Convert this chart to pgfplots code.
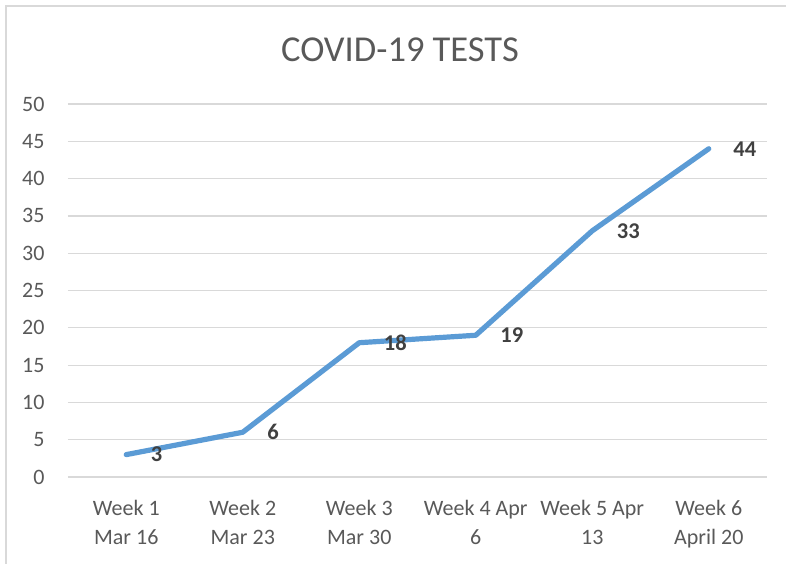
\documentclass[border=0pt]{standalone}
\usepackage{pgfplots}
\pgfplotsset{compat=1.18}
\usepackage{fontspec}
\setmainfont{Carlito}
\definecolor{txtgray}{HTML}{595959}
\definecolor{lblgray}{HTML}{404040}
\definecolor{gridgray}{HTML}{D9D9D9}
\definecolor{linblue}{HTML}{5B9BD5}
\begin{document}
\begin{tikzpicture}
\useasboundingbox (-68pt,-87pt) rectangle (718pt,477pt);
\draw[gridgray, line width=1.2pt] (-62pt,-90pt) -- (-62pt,471pt) -- (720pt,471pt);
\node[font=\fontsize{36.5}{42}\selectfont, text=txtgray] at (332pt,427pt) {COVID-19 TESTS};
\begin{axis}[
  at={(0pt,0pt)}, anchor=south west,
  scale only axis, width=699pt, height=373pt,
  xmin=-0.5, xmax=5.5, ymin=0, ymax=50,
  xtick={0,1,2,3,4,5},
  xticklabels={{Week 1\\Mar 16},{Week 2\\Mar 23},{Week 3\\Mar 30},{Week 4 Apr\\6},{Week 5 Apr\\13},{Week 6\\April 20}},
  ytick={0,5,...,50},
  ymajorgrids, grid style={gridgray, line width=1.2pt},
  axis line style={draw=none},
  major tick length=0pt,
  /pgf/number format/assume math mode=true,
  ticklabel style={font=\fontsize{22}{29}\selectfont, text=txtgray},
  xticklabel style={align=center, anchor=north, yshift=-20pt},
  yticklabel style={anchor=east, xshift=-20pt},
  clip=false,
]
\addplot[linblue, line width=5.2pt, line cap=round, line join=round,
  nodes near coords, point meta=explicit symbolic,
  every node near coord/.style={anchor=west, inner sep=0pt, xshift=22pt,
    font=\fontsize{22.5}{26}\selectfont\bfseries, text=lblgray}]
  coordinates {(0,3)[3] (1,6)[6] (2,18)[18] (3,19)[19] (4,33)[33] (5,44)[44]};
\end{axis}
\end{tikzpicture}
\end{document}
